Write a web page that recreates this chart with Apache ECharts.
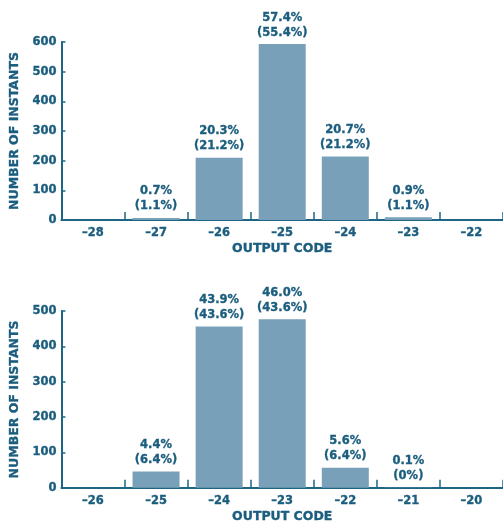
<!DOCTYPE html>
<html>
<head>
<meta charset="utf-8">
<script src="https://cdn.jsdelivr.net/npm/echarts@6/dist/echarts.min.js"></script>
<style>
  html, body { margin: 0; padding: 0; background: #ffffff; }
  #chart { width: 503px; height: 524px; }
</style>
</head>
<body>
<div id="chart"></div>
<script>
// Upper histogram: output code distribution
const topCodes = ['–28', '–27', '–26', '–25', '–24', '–23', '–22'];
const topCounts = [null, 7, 210, 593, 214, 9, null];
const topPct = ['', '0.7%', '20.3%', '57.4%', '20.7%', '0.9%', ''];
const topPctRef = ['', '(1.1%)', '(21.2%)', '(55.4%)', '(21.2%)', '(1.1%)', ''];

// Lower histogram
const botCodes = ['–26', '–25', '–24', '–23', '–22', '–21', '–20'];
const botCounts = [null, 46, 456, 477, 57, 1, null];
const botPct = ['', '4.4%', '43.9%', '46.0%', '5.6%', '0.1%', ''];
const botPctRef = ['', '(6.4%)', '(43.6%)', '(43.6%)', '(6.4%)', '(0%)', ''];

const yMaxTop = 600;
const yMaxBot = 500;
const yStep = 100;

const TEXT = '#1b5d7e';
const AXIS = '#1e6585';
const BAR = '#79a0b9';
const FONT = 'DejaVu Sans';

// bold text with a hairline stroke for a slightly heavier face
function txt(size) {
  return {
    color: TEXT, fontFamily: FONT, fontWeight: 'bold', fontSize: size,
    textBorderColor: TEXT, textBorderWidth: 0.35
  };
}

function xAxis(gridIndex, codes) {
  return {
    type: 'category',
    gridIndex: gridIndex,
    data: codes,
    boundaryGap: true,
    name: 'OUTPUT CODE',
    nameLocation: 'middle',
    nameGap: 22,
    nameTextStyle: txt(12.5),
    axisLine: { show: true, lineStyle: { color: AXIS, width: 2 } },
    axisTick: { show: true, inside: true, length: 8, alignWithLabel: false, lineStyle: { color: AXIS, width: 1.5 } },
    axisLabel: Object.assign(txt(11.5), { margin: 7 }),
    splitLine: { show: false }
  };
}

function yAxis(gridIndex, max) {
  return {
    type: 'value',
    gridIndex: gridIndex,
    min: 0,
    max: max,
    interval: yStep,
    name: 'NUMBER OF INSTANTS',
    nameLocation: 'middle',
    nameRotate: 90,
    nameGap: 35,
    nameTextStyle: txt(12.5),
    axisLine: { show: true, lineStyle: { color: AXIS, width: 2 } },
    axisTick: { show: true, inside: true, length: 4, lineStyle: { color: AXIS, width: 1.5 } },
    axisLabel: Object.assign(txt(11.5), { margin: 5 }),
    splitLine: { show: false }
  };
}

function barSeries(idx, counts, pct, pctRef) {
  return {
    type: 'bar',
    xAxisIndex: idx,
    yAxisIndex: idx,
    data: counts,
    barWidth: 47,
    itemStyle: { color: BAR },
    label: Object.assign(txt(11.5), {
      show: true,
      position: 'top',
      distance: 4,
      lineHeight: 15,
      formatter: function (p) {
        const a = pct[p.dataIndex];
        return a ? a + '\n' + pctRef[p.dataIndex] : '';
      }
    })
  };
}

const chart = echarts.init(document.getElementById('chart'), null, { renderer: 'canvas' });
chart.setOption({
  animation: false,
  backgroundColor: '#ffffff',
  grid: [
    { left: 58, top: 42, width: 447, height: 178 },
    { left: 58, top: 311, width: 447, height: 178 }
  ],
  xAxis: [xAxis(0, topCodes), xAxis(1, botCodes)],
  yAxis: [yAxis(0, yMaxTop), yAxis(1, yMaxBot)],
  series: [
    barSeries(0, topCounts, topPct, topPctRef),
    barSeries(1, botCounts, botPct, botPctRef)
  ]
});
</script>
</body>
</html>
